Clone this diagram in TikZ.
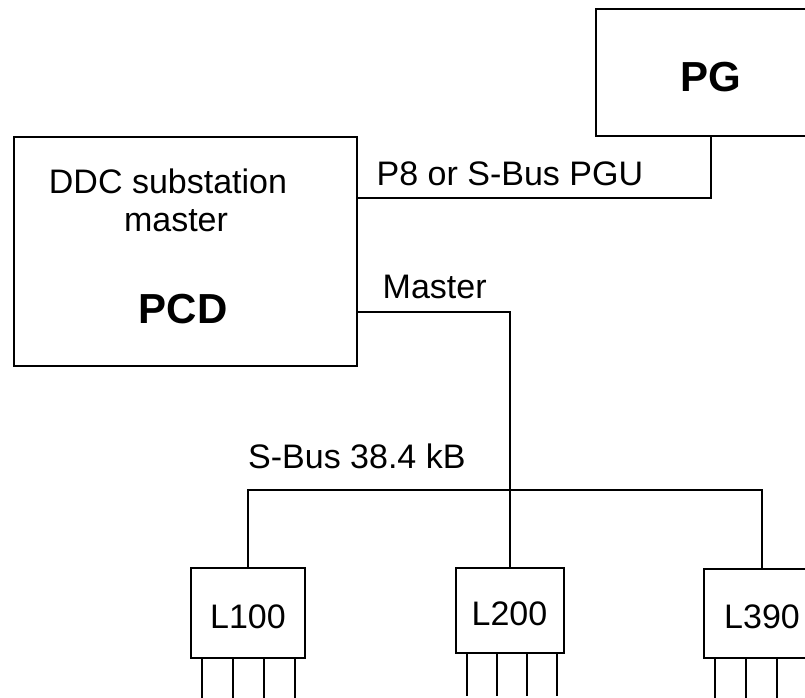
\documentclass[tikz,border=0pt]{standalone}
\usepackage{fontspec}
\setmainfont{Liberation Sans}
\usetikzlibrary{positioning,calc}
\tikzset{
  unit/.style={draw, line width=2pt, inner sep=0pt},
  lbl/.style={font=\fontsize{34}{40}\selectfont, inner sep=0pt},
  big/.style={font=\fontsize{42}{48}\selectfont\bfseries, inner sep=0pt},
  wire/.style={line width=2pt},
}

\begin{document}
\begin{tikzpicture}[x=1pt, y=-1pt]
  \useasboundingbox (0,0) rectangle (805,698);
  \clip (0,0) rectangle (805,698);

  % Programming unit (top right)
  \node[unit, big, minimum width=231pt, minimum height=127pt, text height=38pt, text depth=0pt] (pg) at (711,72.5) {PG};

  % Substation master (left box)
  \node[unit, minimum width=343pt, minimum height=229pt] (pcd) at (185.5,251.5) {};
  \node[lbl, anchor=base] (ddc) at (168,193) {DDC substation};
  \node[lbl, anchor=base] (ddcm) at (176,231.5) {master};
  \node[big, anchor=base] (pcdname) at (183,323) {PCD};

  % Slave stations
  \node[unit, lbl, minimum width=114pt, minimum height=89.5pt, text height=30pt, text depth=0pt] (l100) at (248,613) {L100};
  \node[unit, lbl, minimum width=108pt, minimum height=85pt, text height=30pt, text depth=0pt] (l200) at (509.5,610.5) {L200};
  \node[unit, lbl, minimum width=116pt, minimum height=89pt, text height=30pt, text depth=0pt] (l390) at (762,613) {L390};

  % PG link
  \draw[wire] (pcd.north east) ++(0,62) -| (pg.south);
  \node[lbl, anchor=base west] (pglink) at (376.5,185) {P8 or S-Bus PGU};

  % Master line and S-Bus
  \draw[wire] (pcd.north east) ++(0,176) -| (l200.north);
  \node[lbl, anchor=base west] (master) at (382.5,298.5) {Master};
  \draw[wire] (l100.north) -- ++(0,-77) -| (l390.north);
  \node[lbl, anchor=base west] (sbus) at (248,468.5) {S-Bus 38.4 kB};

  % I/O pins
  \foreach \n/\d/\h in {l100/31/45, l200/30/42, l390/31/45}
    \foreach \i in {0,...,3}
      \draw[wire] ([xshift={12+\i*\d}]\n.south west) -- ++(0,\h);
\end{tikzpicture}
\end{document}
